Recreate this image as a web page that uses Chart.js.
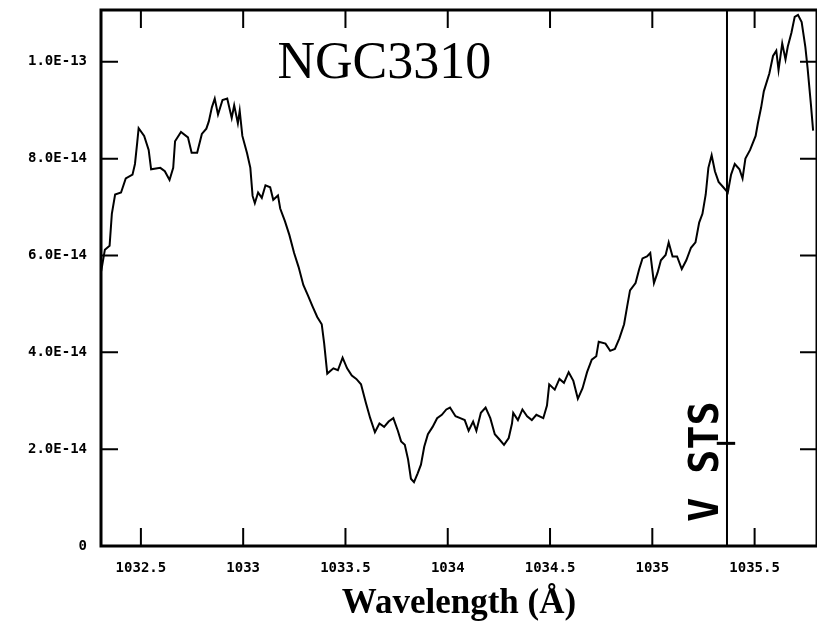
<!DOCTYPE html>
<html>
<head>
<meta charset="utf-8">
<script src="https://cdn.jsdelivr.net/npm/chart.js@4.4.0/dist/chart.umd.min.js"></script>
<style>
  html, body { margin: 0; padding: 0; background: #fff; }
  #wrap { width: 817px; height: 622px; }
</style>
</head>
<body>
<div id="wrap"><canvas id="specChart" width="817" height="622"></canvas></div>
<script>
// wavelength (Angstrom) and flux (units of 1e-14)
let wavelength = [
  1032.306, 1032.324, 1032.347, 1032.358, 1032.374, 1032.403, 1032.426, 1032.459, 1032.471, 1032.482,
  1032.489, 1032.516, 1032.538, 1032.550, 1032.595, 1032.617, 1032.640, 1032.658, 1032.667, 1032.696,
  1032.730, 1032.748, 1032.775, 1032.798, 1032.820, 1032.832, 1032.847, 1032.861, 1032.877, 1032.899,
  1032.922, 1032.944, 1032.956, 1032.974, 1032.983, 1032.996, 1033.019, 1033.035, 1033.046, 1033.057,
  1033.073, 1033.091, 1033.109, 1033.132, 1033.147, 1033.170, 1033.181, 1033.204, 1033.226, 1033.249,
  1033.271, 1033.294, 1033.317, 1033.339, 1033.362, 1033.384, 1033.396, 1033.411, 1033.441, 1033.463,
  1033.486, 1033.508, 1033.531, 1033.553, 1033.576, 1033.599, 1033.621, 1033.644, 1033.666, 1033.689,
  1033.711, 1033.734, 1033.756, 1033.772, 1033.790, 1033.806, 1033.820, 1033.835, 1033.853, 1033.869,
  1033.885, 1033.903, 1033.926, 1033.948, 1033.971, 1033.993, 1034.011, 1034.038, 1034.061, 1034.083,
  1034.102, 1034.124, 1034.140, 1034.162, 1034.185, 1034.208, 1034.230, 1034.253, 1034.275, 1034.298,
  1034.314, 1034.320, 1034.343, 1034.365, 1034.388, 1034.411, 1034.433, 1034.467, 1034.485, 1034.496,
  1034.523, 1034.546, 1034.568, 1034.591, 1034.614, 1034.636, 1034.659, 1034.681, 1034.704, 1034.726,
  1034.738, 1034.771, 1034.794, 1034.817, 1034.839, 1034.862, 1034.877, 1034.891, 1034.918, 1034.936,
  1034.952, 1034.974, 1034.990, 1035.008, 1035.026, 1035.042, 1035.065, 1035.080, 1035.099, 1035.121,
  1035.144, 1035.166, 1035.189, 1035.211, 1035.229, 1035.245, 1035.261, 1035.274, 1035.290, 1035.306,
  1035.324, 1035.347, 1035.369, 1035.385, 1035.403, 1035.426, 1035.441, 1035.455, 1035.478, 1035.505,
  1035.516, 1035.532, 1035.545, 1035.572, 1035.590, 1035.606, 1035.617, 1035.635, 1035.651, 1035.662,
  1035.680, 1035.696, 1035.712, 1035.730, 1035.748, 1035.759, 1035.775, 1035.786
];
let flux = [
  5.68, 6.12, 6.20, 6.86, 7.26, 7.30, 7.59, 7.67, 7.89, 8.33,
  8.63, 8.47, 8.18, 7.78, 7.81, 7.74, 7.56, 7.81, 8.36, 8.55,
  8.44, 8.12, 8.12, 8.51, 8.62, 8.77, 9.06, 9.24, 8.91, 9.21,
  9.24, 8.84, 9.10, 8.73, 8.99, 8.47, 8.11, 7.81, 7.23, 7.08,
  7.30, 7.19, 7.45, 7.41, 7.15, 7.24, 6.97, 6.71, 6.42, 6.05,
  5.76, 5.39, 5.17, 4.95, 4.73, 4.58, 4.18, 3.56, 3.67, 3.63,
  3.89, 3.67, 3.52, 3.45, 3.34, 2.97, 2.64, 2.35, 2.53, 2.46,
  2.57, 2.64, 2.38, 2.16, 2.09, 1.79, 1.39, 1.32, 1.50, 1.68,
  2.05, 2.31, 2.46, 2.64, 2.71, 2.82, 2.86, 2.68, 2.64, 2.60,
  2.38, 2.57, 2.38, 2.75, 2.86, 2.64, 2.31, 2.20, 2.09, 2.23,
  2.53, 2.75, 2.60, 2.82, 2.68, 2.60, 2.71, 2.64, 2.90, 3.34,
  3.23, 3.45, 3.37, 3.59, 3.41, 3.04, 3.26, 3.59, 3.85, 3.92,
  4.22, 4.18, 4.03, 4.07, 4.29, 4.58, 4.95, 5.28, 5.43, 5.72,
  5.94, 5.98, 6.05, 5.43, 5.65, 5.90, 6.01, 6.27, 5.98, 5.98,
  5.72, 5.90, 6.16, 6.27, 6.68, 6.86, 7.26, 7.81, 8.07, 7.74,
  7.52, 7.41, 7.30, 7.67, 7.89, 7.78, 7.59, 8.00, 8.18, 8.47,
  8.73, 9.06, 9.39, 9.76, 10.12, 10.23, 9.83, 10.38, 10.05, 10.31,
  10.60, 10.93, 10.97, 10.82, 10.31, 9.87, 9.13, 8.58
];

let xTicks = [1032.5, 1033, 1033.5, 1034, 1034.5, 1035, 1035.5];
let yTicks = [0, 2, 4, 6, 8, 10];   // x 1e-14

let lineWave = 1035.365;
let lineLabel = "V STS";
let lineMarkFlux = 2.12;
let title = "NGC3310";

let xMin = 1032.305, xMax = 1035.805;
let yMin = 0, yMax = 11.07;

// inward ticks, frame, title and line label
const framePlugin = {
    id: 'framePlugin',
    afterDatasetsDraw(chart) {
        const ctx = chart.ctx;
        const a = chart.chartArea;
        const x = chart.scales.x, y = chart.scales.y;
        ctx.save();
        ctx.strokeStyle = '#000';
        ctx.lineWidth = 2;
        ctx.beginPath();
        xTicks.forEach(v => {
            let px = x.getPixelForValue(v);
            ctx.moveTo(px, a.bottom); ctx.lineTo(px, a.bottom - 18);
            ctx.moveTo(px, a.top); ctx.lineTo(px, a.top + 18);
        });
        yTicks.forEach(v => {
            let py = y.getPixelForValue(v);
            ctx.moveTo(a.left, py); ctx.lineTo(a.left + 17, py);
            ctx.moveTo(a.right, py); ctx.lineTo(a.right - 17, py);
        });
        ctx.stroke();
        ctx.lineWidth = 3;
        ctx.strokeRect(a.left, a.top, a.right - a.left, a.bottom - a.top);

        // title
        ctx.fillStyle = '#000';
        ctx.font = "52px 'Liberation Serif'";
        ctx.textAlign = 'center';
        ctx.textBaseline = 'alphabetic';
        ctx.fillText(title, x.getPixelForValue(1033.69), y.getPixelForValue(9.67));

        // rotated label next to the vertical line
        ctx.translate(x.getPixelForValue(lineWave) - 9, y.getPixelForValue(0.5));
        ctx.rotate(-Math.PI / 2);
        ctx.font = "bold 40px 'DejaVu Sans Mono'";
        ctx.textAlign = 'left';
        ctx.fillText(lineLabel, 0, 0);
        ctx.restore();
    }
};

let chart = new Chart(document.getElementById("specChart"), {
    type: 'line',
    data: {
        datasets: [{
            data: wavelength.map((w, i) => ({x: w, y: flux[i]})),
            borderColor: '#000',
            borderWidth: 2,
            pointRadius: 0,
            tension: 0
        }, {
            data: [{x: lineWave, y: yMin}, {x: lineWave, y: yMax}],
            borderColor: '#000',
            borderWidth: 2,
            pointRadius: 0
        }, {
            data: [{x: lineWave - 0.05, y: lineMarkFlux}, {x: lineWave + 0.04, y: lineMarkFlux}],
            borderColor: '#000',
            borderWidth: 3,
            pointRadius: 0
        }]
    },
    options: {
        responsive: false,
        animation: false,
        layout: {padding: {top: 10, left: 0, right: -3, bottom: 0}},
        plugins: {legend: {display: false}, tooltip: {enabled: false}},
        scales: {
            x: {
                type: 'linear',
                min: xMin,
                max: xMax,
                grid: {display: false, drawTicks: false},
                border: {display: false},
                afterBuildTicks: s => { s.ticks = xTicks.map(v => ({value: v})); },
                afterFit: s => { s.height = 76; s.paddingLeft = 0; s.paddingRight = 0; },
                ticks: {
                    color: '#000',
                    padding: 14,
                    maxRotation: 0,
                    autoSkip: false,
                    font: {family: "'DejaVu Sans Mono'", size: 14, weight: 'bold'},
                    callback: v => String(v)
                },
                title: {
                    display: true,
                    text: 'Wavelength (Å)',
                    color: '#000',
                    padding: {top: 0, bottom: -3},
                    font: {family: "'Liberation Serif'", size: 35, weight: 'bold'}
                }
            },
            y: {
                min: yMin,
                max: yMax,
                grid: {display: false, drawTicks: false},
                border: {display: false},
                afterBuildTicks: s => { s.ticks = yTicks.map(v => ({value: v})); },
                afterFit: s => { s.width = 101; s.paddingTop = 0; s.paddingBottom = 0; },
                ticks: {
                    color: '#000',
                    padding: 14,
                    font: {family: "'DejaVu Sans Mono'", size: 14, weight: 'bold'},
                    callback: v => v === 0 ? '0' : (v * 1e-14).toExponential(1).toUpperCase()
                }
            }
        }
    },
    plugins: [framePlugin]
});
</script>
</body>
</html>
